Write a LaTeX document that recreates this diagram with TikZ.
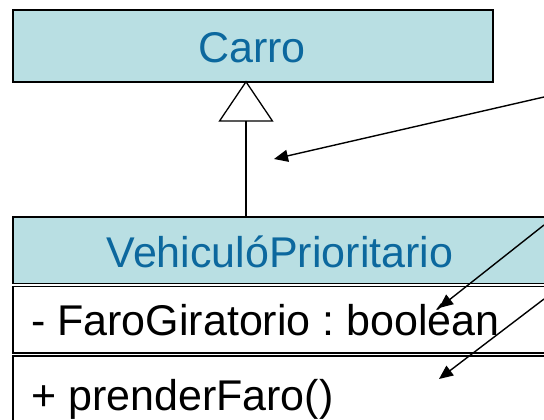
\documentclass[tikz,border=0pt]{standalone}
\usepackage{fontspec}
\setmainfont{Liberation Sans}
\frenchspacing
\usetikzlibrary{arrows.meta}
\definecolor{headfill}{RGB}{185,223,227}
\definecolor{headtext}{RGB}{12,104,158}
\tikzset{
  classbox/.style={draw=black, line width=1.6pt, rectangle, inner sep=0pt, anchor=north west},
  classname/.style={inner sep=0pt, anchor=base, text=headtext, font=\fontsize{43}{50}\selectfont},
  member/.style={inner sep=0pt, anchor=base west, text=black, font=\fontsize{43}{50}\selectfont},
  genline/.style={line width=1.3pt, -{Triangle[open, length=41pt, width=55pt, fill=white]}},
  noteline/.style={line width=1.4pt, -{Triangle[length=14pt, width=12pt]}}
}
\begin{document}
\begin{tikzpicture}[x=1pt, y=-1pt]
\useasboundingbox (0,0) rectangle (544,420);
\fill[white] (0,0) rectangle (544,420);
\clip (0,0) rectangle (544,420);

% superclass
\node[classbox, fill=headfill, minimum width=480pt, minimum height=72pt] (carro) at (12,9) {};
\node[classname] (carrotxt) at (252,63) {Carro};

% subclass: name, attributes, operations
\node[classbox, fill=headfill, minimum width=536pt, minimum height=66.5pt] (vp) at (12,216) {};
\node[classname] (vptxt) at (280,267) {VehiculóPrioritario};
\node[classbox, fill=white, minimum width=536pt, minimum height=66.5pt] (attrs) at (12,285.5) {};
\node[member] (attrtxt) at (31,335) {- FaroGiratorio : booléan};
\node[classbox, fill=white, minimum width=536pt, minimum height=90pt] (ops) at (12,355) {};
\node[member] (opstxt) at (31,410) {+ prenderFaro()};

% inheritance
\coordinate (genx) at (246,0);
\draw[genline] (vp.north -| genx) -- ([yshift=2pt]carro.south -| genx);

% pointers coming in from the right
\coordinate (n1) at (544,97);
\coordinate (t1) at (274,159);
\coordinate (n2) at (544,225);
\coordinate (t2) at (439,308);
\coordinate (n3) at (544,299);
\coordinate (t3) at (439,379);
\draw[noteline] (n1) -- (t1);
\draw[noteline] (n2) -- (t2);
\draw[noteline] (n3) -- (t3);
\end{tikzpicture}
\end{document}
